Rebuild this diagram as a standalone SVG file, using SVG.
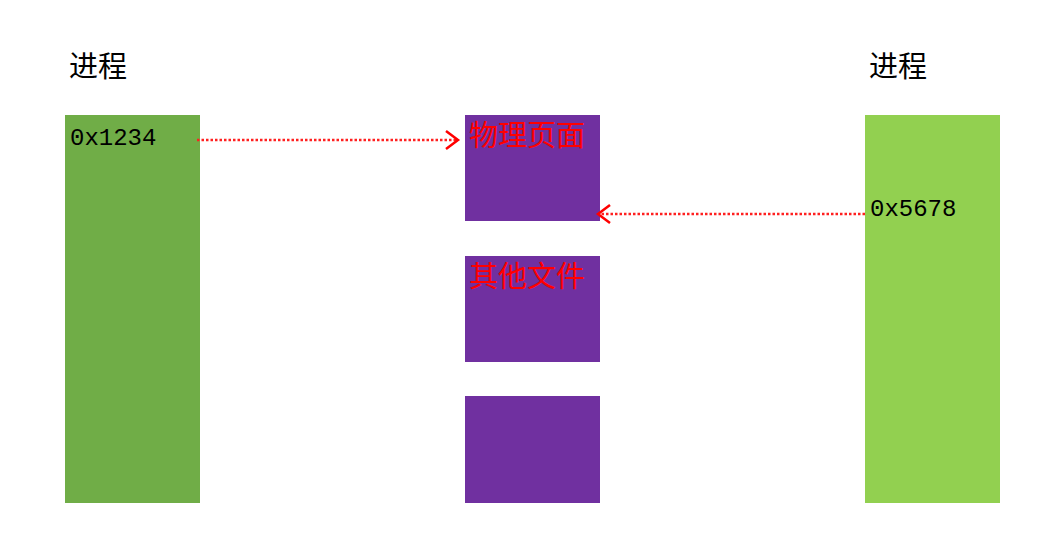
<svg xmlns="http://www.w3.org/2000/svg" width="1044" height="538" viewBox="0 0 1044 538">
<style>
.title{font-family:"Noto Sans CJK SC","Noto Sans",sans-serif;font-size:29px;fill:#000}
.addr{font-family:"Liberation Mono","DejaVu Sans Mono",monospace;font-size:24px;fill:#000}
.cn{font-family:"Noto Sans CJK SC",sans-serif;font-size:29px;fill:#ff0000}
.conn{stroke:#ff2020;stroke-width:2.5;stroke-dasharray:2.5 2;fill:none}
</style>
<defs>
<marker id="ah" markerWidth="20" markerHeight="22" refX="15" refY="11" orient="auto" markerUnits="userSpaceOnUse">
<path d="M3,2 L15,11 L3,20" fill="none" stroke="#ff0000" stroke-width="2.5"/>
</marker>
</defs>
<rect width="1044" height="538" fill="#fff"/>
<g id="left-process">
<text class="title" x="69" y="77">进程</text>
<rect x="65" y="115" width="135" height="388" fill="#70AD47"/>
<text class="addr" x="70" y="145">0x1234</text>
</g>
<g id="page1">
<rect x="465" y="115" width="135" height="106" fill="#7030A0"/>
<text class="cn" x="469" y="146">物理页面</text>
</g>
<g id="page2">
<rect x="465" y="256" width="135" height="106" fill="#7030A0"/>
<text class="cn" x="469" y="287">其他文件</text>
</g>
<g id="page3">
<rect x="465" y="396" width="135" height="107" fill="#7030A0"/>
</g>
<g id="right-process">
<text class="title" x="869" y="77">进程</text>
<rect x="865" y="115" width="135" height="388" fill="#92D050"/>
<text class="addr" x="870" y="216">0x5678</text>
</g>
<g id="connectors">
<line class="conn" x1="197" y1="140" x2="458" y2="140" marker-end="url(#ah)"/>
<line class="conn" x1="865" y1="214" x2="598" y2="214" marker-end="url(#ah)"/>
</g>
</svg>
